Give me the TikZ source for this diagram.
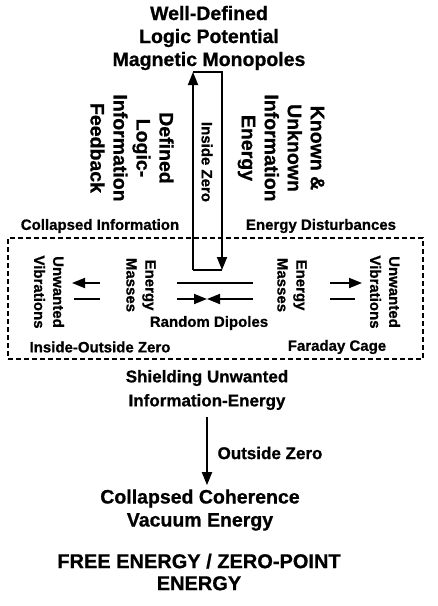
\documentclass[tikz,border=0pt]{standalone}
\usepackage{fontspec}
\setmainfont{Liberation Sans}[BoldFeatures={FakeBold=0.8}]
\usetikzlibrary{arrows.meta, positioning}
\tikzset{big/.style={font=\fontsize{19.5}{23}\selectfont\bfseries,align=center,inner sep=0pt},
  mid/.style={font=\fontsize{17}{24}\selectfont\bfseries,align=center,inner sep=0pt},
  small/.style={font=\fontsize{15}{19}\selectfont\bfseries,align=center,inner sep=0pt},
  line/.style={-{Triangle[length=13pt,width=10pt]},line width=1.8pt},
  plain/.style={line width=1.8pt},
  cage/.style={draw,line width=1.4pt,dash pattern=on 5pt off 3pt,minimum width=415pt,minimum height=121pt,inner sep=0pt}}

\begin{document}
\begin{tikzpicture}[x=1pt,y=-1pt]
\useasboundingbox (0,0) rectangle (438,606);
\node[big] (mono) at (209,38) {Well-Defined\\Logic Potential\\Magnetic Monopoles};
\node[big,rotate=-90] (feedback) at (132,148) {Defined\\Logic-\\Information\\Feedback};
\node[big,rotate=-90] (known) at (281,148) {Known \&\\Unknown\\Information\\Energy};
\node[small,rotate=-90] (inzero) at (207,162) {Inside Zero};
% inside zero loop
\coordinate (tl) at (193,72);
\coordinate (tr) at (222,72);
\coordinate (bl) at (193,270);
\coordinate (br) at (222,270);
\draw[line] (bl) -- (tl);
\draw[line] (tl) -- (tr) -- (br);
\draw[plain] (bl) -- (br);
\node[small] (collinfo) at (100,226) {Collapsed Information};
\node[small] (disturb) at (321,226) {Energy Disturbances};
% faraday cage
\node[cage] (box) at (215.5,298.5) {};
\node[small,rotate=-90] (vibl) at (49,292) {Unwanted\\Vibrations};
\node[small,rotate=-90] (massl) at (141,285) {Energy\\Masses};
\node[small,rotate=-90] (massr) at (292,285) {Energy\\Masses};
\node[small,rotate=-90] (vibr) at (385,292) {Unwanted\\Vibrations};
\coordinate (la) at (100,283);
\coordinate (lb) at (72,283);
\coordinate (lc) at (74,299);
\coordinate (ld) at (100,299);
\draw[line] (la) -- (lb);
\draw[plain] (lc) -- (ld);
\coordinate (ca) at (177,283);
\coordinate (cb) at (253,283);
\coordinate (cc) at (177,299);
\coordinate (cm) at (207,299);
\coordinate (cd) at (253,299);
\draw[plain] (ca) -- (cb);
\draw[line] (cc) -- (cm);
\draw[line] (cd) -- (cm);
\coordinate (ra) at (330,283);
\coordinate (rb) at (362,283);
\coordinate (rc) at (330,299);
\coordinate (rd) at (355,299);
\draw[line] (ra) -- (rb);
\draw[plain] (rc) -- (rd);
\node[small] (dipoles) at (209,323) {Random Dipoles};
\node[small] (inout) at (100,347) {Inside-Outside Zero};
\node[small] (faraday) at (337,347) {Faraday Cage};
% below the cage
\node[mid] (shield) at (207,390) {Shielding Unwanted\\Information-Energy};
\node[big] (vacuum) at (200,510) {Collapsed Coherence\\Vacuum Energy};
\draw[line] ([yshift=-7pt]shield.south) -- ([yshift=4pt]vacuum.north-|shield.south);
\node[mid] (outzero) at (270,453) {Outside Zero};
\node[font=\fontsize{20}{22}\selectfont\bfseries,align=center,inner sep=0pt] (free) at (199,572) {FREE ENERGY / ZERO-POINT\\ENERGY};
\end{tikzpicture}
\end{document}
